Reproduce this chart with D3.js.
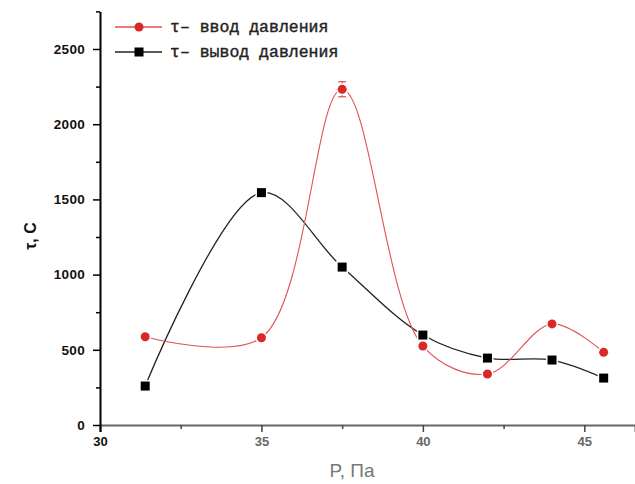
<!DOCTYPE html>
<html>
<head>
<meta charset="utf-8">
<script src="https://cdn.jsdelivr.net/npm/d3@7"></script>
<style>
  body { margin: 0; background: #fff; }
  svg { display: block; }
</style>
</head>
<body>
<script>
// pressure, MPa
const pressure = [31.4, 35, 37.5, 40, 42, 44, 45.6];
// tau, s
const tauIn = [587, 580, 2232, 525, 339, 672, 483];
const tauOut = [259, 1545, 1050, 598, 445, 432, 312];
const tauInErr = [0, 0, 50, 0, 0, 0, 0];

const seriesNames = ["τ– ввод давления", "τ– вывод давления"];
const xTicks = [30, 35, 40, 45];
const yTicks = [0, 500, 1000, 1500, 2000, 2500];

const width = 635, height = 484;

const x = d3.scaleLinear().domain([30, 46.57]).range([100, 635]);
const y = d3.scaleLinear().domain([0, 2750]).range([425, 11.4]);

const svg = d3.select("body").append("svg")
    .attr("width", width)
    .attr("height", height);

// x axis
const xAxis = svg.append("g")
    .attr("transform", "translate(0," + y(0) + ")")
    .call(d3.axisBottom(x).tickValues(xTicks).tickSize(7).tickPadding(5).tickFormat(d3.format("d")));
xAxis.select(".domain").attr("stroke", "#666").attr("stroke-width", 2);
xAxis.selectAll(".tick line")
    .attr("stroke", (d) => d == 30 ? "#000" : "#444")
    .attr("stroke-width", (d) => d == 30 ? 2 : 1.5);
xAxis.selectAll(".tick text")
    .attr("font-family", "Liberation Sans, Arial, sans-serif")
    .attr("font-size", 13)
    .attr("font-weight", "bold")
    .attr("fill", (d) => d == 30 ? "#111" : "#666");

svg.append("g")
    .attr("transform", "translate(0," + y(0) + ")")
    .call(d3.axisBottom(x).tickValues([32.5, 37.5, 42.5]).tickSize(4).tickFormat(""))
    .call(g => g.select(".domain").remove())
    .selectAll(".tick line").attr("stroke", "#444").attr("stroke-width", 1.5);

// y axis
const yAxis = svg.append("g")
    .attr("transform", "translate(" + x(30) + ",0)")
    .call(d3.axisLeft(y).tickValues(yTicks).tickSize(7).tickPadding(8).tickSizeOuter(0).tickFormat(d3.format("d")));
yAxis.select(".domain").attr("stroke", "#000").attr("stroke-width", 2);
yAxis.selectAll(".tick line").attr("stroke", "#000").attr("stroke-width", 1.5);
yAxis.selectAll(".tick text")
    .attr("font-family", "Liberation Sans, Arial, sans-serif")
    .attr("font-size", 13.5)
    .attr("font-weight", "bold")
    .attr("letter-spacing", 0.3)
    .attr("fill", "#111");

svg.append("g")
    .attr("transform", "translate(" + x(30) + ",0)")
    .call(d3.axisLeft(y).tickValues([250, 750, 1250, 1750, 2250, 2750]).tickSize(4).tickFormat(""))
    .call(g => g.select(".domain").remove())
    .selectAll(".tick line").attr("stroke", "#000").attr("stroke-width", 1.5);

// axis titles
svg.append("text")
    .attr("transform", "translate(36,236) rotate(-90)")
    .attr("text-anchor", "middle")
    .attr("font-family", "Liberation Sans, Arial, sans-serif")
    .attr("font-size", 16)
    .attr("font-weight", "bold")
    .attr("fill", "#111")
    .text("τ, С");

svg.append("text")
    .attr("x", 352)
    .attr("y", 477)
    .attr("text-anchor", "middle")
    .attr("font-family", "Liberation Sans, Arial, sans-serif")
    .attr("font-size", 19)
    .attr("fill", "#777")
    .text("P, Па");

// curves
const line = d3.line()
    .x((d, i) => x(pressure[i]))
    .y(d => y(d))
    .curve(d3.curveCatmullRom.alpha(0.5));

svg.append("path")
    .attr("d", line(tauOut))
    .attr("fill", "none")
    .attr("stroke", "#222")
    .attr("stroke-width", 1.3);

svg.append("path")
    .attr("d", line(tauIn))
    .attr("fill", "none")
    .attr("stroke", "#e05050")
    .attr("stroke-width", 1.1);

// error bars
const errIdx = d3.range(pressure.length).filter(i => tauInErr[i] > 0);
const err = svg.selectAll("g.err").data(errIdx).enter().append("g").attr("class", "err");
err.append("line")
    .attr("x1", i => x(pressure[i])).attr("x2", i => x(pressure[i]))
    .attr("y1", i => y(tauIn[i] + tauInErr[i])).attr("y2", i => y(tauIn[i] - tauInErr[i]))
    .attr("stroke", "#d03030");
err.selectAll("line.cap").data(i => [[i, 1], [i, -1]]).enter().append("line")
    .attr("class", "cap")
    .attr("x1", d => x(pressure[d[0]]) - 4).attr("x2", d => x(pressure[d[0]]) + 4)
    .attr("y1", d => y(tauIn[d[0]] + d[1] * tauInErr[d[0]]))
    .attr("y2", d => y(tauIn[d[0]] + d[1] * tauInErr[d[0]]))
    .attr("stroke", "#d03030");

// markers (white outline gives the gap in the curve like the original)
svg.selectAll("rect.out").data(tauOut).enter().append("rect")
    .attr("class", "out")
    .attr("x", (d, i) => x(pressure[i]) - 4.5)
    .attr("y", d => y(d) - 4.5)
    .attr("width", 9).attr("height", 9)
    .attr("fill", "#000")
    .attr("stroke", "#fff").attr("stroke-width", 3)
    .attr("paint-order", "stroke");

svg.selectAll("circle.in").data(tauIn).enter().append("circle")
    .attr("class", "in")
    .attr("cx", (d, i) => x(pressure[i]))
    .attr("cy", d => y(d))
    .attr("r", 4.5)
    .attr("fill", "#d82828")
    .attr("stroke", "#fff").attr("stroke-width", 3)
    .attr("paint-order", "stroke");

// legend
const legend = svg.append("g").attr("transform", "translate(115,27)");
const rows = legend.selectAll("g").data(seriesNames).enter().append("g")
    .attr("transform", (d, i) => "translate(0," + i * 25 + ")");
rows.append("line")
    .attr("x1", 0).attr("x2", 47)
    .attr("stroke", (d, i) => i == 0 ? "#e05050" : "#222")
    .attr("stroke-width", 1.3);
rows.filter((d, i) => i == 0).append("circle")
    .attr("cx", 24).attr("r", 4.5).attr("fill", "#d82828");
rows.filter((d, i) => i == 1).append("rect")
    .attr("x", 19.5).attr("y", -4.5).attr("width", 9).attr("height", 9).attr("fill", "#000");
rows.append("text")
    .attr("x", 55).attr("y", 5)
    .attr("font-family", "'Liberation Mono', 'DejaVu Sans Mono', monospace")
    .attr("font-size", 16.5)
    .attr("fill", "#222")
    .attr("stroke", "#222")
    .attr("stroke-width", 0.4)
    .text(d => d);
</script>
</body>
</html>
